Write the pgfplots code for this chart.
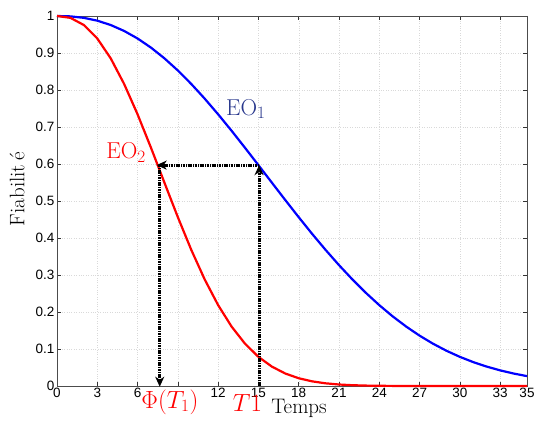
\documentclass[border=0pt]{standalone}
\usepackage{fontspec}
\usepackage{pgfplots}
\pgfplotsset{compat=1.18}
\usetikzlibrary{arrows.meta}
\newfontfamily\ticksf{Liberation Sans}
\definecolor{eoblue}{RGB}{40,55,140}
\begin{document}
\begin{tikzpicture}
\useasboundingbox (-57pt,-37pt) rectangle (477pt,386pt);
\begin{axis}[
  scale only axis, width=470pt, height=370pt,
  xmin=0, xmax=35, ymin=0, ymax=1,
  xtick={0,3,6,9,12,15,18,21,24,27,30,33,35},
  xticklabels={0,3,6,,12,15,18,21,24,27,30,33,35},
  ytick={0,0.1,0.2,0.3,0.4,0.5,0.6,0.7,0.8,0.9,1},
  yticklabels={0,0.1,0.2,0.3,0.4,0.5,0.6,0.7,0.8,0.9,1},
  /pgf/number format/assume math mode=true,
  ticklabel style={font=\ticksf\fontsize{13.5}{15}\selectfont},
  xticklabel style={yshift=1pt},
  yticklabel style={xshift=1pt},
  major tick length=4pt,
  tick style={black!80, line width=0.5pt},
  axis line style={black!70, line width=0.6pt},
  grid=major,
  grid style={dotted, gray!30, line width=0.4pt},
  xlabel={Temps},
  xlabel style={font=\fontsize{21}{24}\selectfont, at={(axis description cs:0.515,0)}, anchor=north, yshift=-10pt},
  ylabel={Fiabilit\hspace{0.18em}é},
  ylabel style={font=\fontsize{21}{24}\selectfont, at={(axis description cs:-0.085,0.532)}, anchor=center},
  clip=false,
]
\addplot[blue, line width=2.2pt] coordinates {
(0,1) (1,0.99898) (2,0.99500) (3,0.98735) (4,0.97562) (5,0.95960) (6,0.93923) (7,0.91449)
(8,0.88556) (9,0.85271) (10,0.81623) (11,0.77660) (12,0.73427) (13,0.68985) (14,0.64383)
(15,0.59690) (16,0.54963) (17,0.50255) (18,0.45619) (19,0.41117) (20,0.36788) (21,0.32668)
(22,0.28790) (23,0.25182) (24,0.21850) (25,0.18813) (26,0.16067) (27,0.13609) (28,0.11437)
(29,0.09528) (30,0.07875) (31,0.06455) (32,0.05247) (33,0.04226) (34,0.03375) (35,0.02672)
};
\addplot[red, line width=2.2pt] coordinates {
(0,1) (1,0.99500) (2,0.97562) (3,0.93923) (4,0.88556) (5,0.81623) (6,0.73427) (7,0.64383)
(8,0.54963) (9,0.45619) (10,0.36788) (11,0.28790) (12,0.21850) (13,0.16067) (14,0.11437)
(15,0.07875) (16,0.05247) (17,0.03375) (18,0.02096) (19,0.01257) (20,0.00726) (21,0.00404)
(22,0.00217) (23,0.00112) (24,0.00056) (25,0.00027) (26,0.00012) (27,0.00005) (28,0.00002)
(29,0) (30,0) (31,0) (32,0) (33,0) (34,0) (35,0)
};
\addplot[black, line width=2.8pt, dash pattern=on 1.6pt off 0.8pt, -{Stealth[length=10pt,width=9pt,inset=3pt]}] coordinates {(15.05,0) (15.05,0.597)};
\addplot[black, line width=2.8pt, dash pattern=on 1.6pt off 0.8pt, -{Stealth[length=10pt,width=9pt,inset=3pt]}] coordinates {(15.05,0.597) (7.42,0.597)};
\addplot[black, line width=2.8pt, dash pattern=on 1.6pt off 0.8pt, -{Stealth[length=10pt,width=9pt,inset=3pt]}] coordinates {(7.65,0.597) (7.65,-0.002)};
\node[text=eoblue, font=\fontsize{23}{26}\selectfont] at (axis cs:14.07,0.749) {EO$_1$};
\node[text=red, font=\fontsize{23}{26}\selectfont] at (axis cs:5.14,0.632) {EO$_2$};
\node[text=red, font=\fontsize{23}{26}\selectfont] at (axis cs:8.41,-0.043) {$\Phi(T_1)$};
\node[text=red, font=\fontsize{23}{26}\selectfont] at (axis cs:14.18,-0.046) {$T1$};
\end{axis}
\end{tikzpicture}
\end{document}
